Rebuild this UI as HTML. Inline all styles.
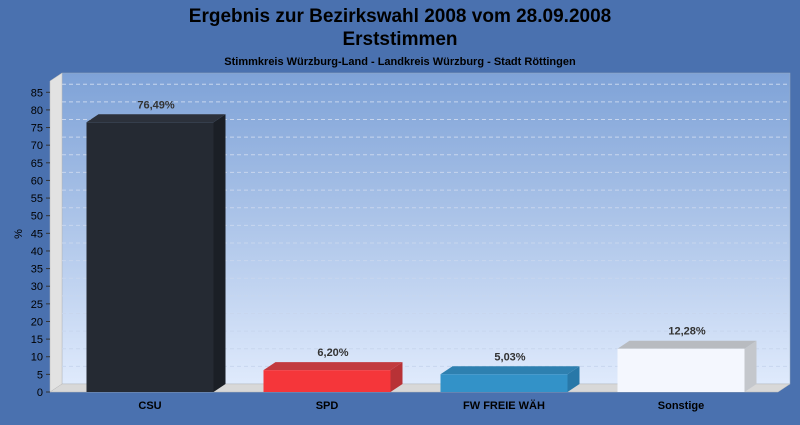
<!DOCTYPE html>
<html><head><meta charset="utf-8"><style>
body{margin:0;width:800px;height:420px;background:#4a71af;overflow:hidden;font-family:"Liberation Sans",sans-serif}
</style></head><body>
<svg width="800" height="420" xmlns="http://www.w3.org/2000/svg" font-family="Liberation Sans, sans-serif">
<defs>
<linearGradient id="wall" x1="0" y1="0" x2="0" y2="1"><stop offset="0" stop-color="#7ea2d7"/><stop offset="1" stop-color="#dfeafc"/></linearGradient>
</defs>
<rect width="800" height="420" fill="#4a71af"/>
<text x="400" y="22" text-anchor="middle" font-size="19" font-weight="bold" fill="#000">Ergebnis zur Bezirkswahl 2008 vom 28.09.2008</text>
<text x="400" y="45" text-anchor="middle" font-size="19" font-weight="bold" fill="#000">Erststimmen</text>
<text x="400" y="65" text-anchor="middle" font-size="11" font-weight="bold" fill="#000">Stimmkreis Würzburg-Land - Landkreis Würzburg - Stadt Röttingen</text>
<text transform="translate(22,234) rotate(-90)" text-anchor="middle" font-size="11" fill="#000">%</text>
<g id="plot"></g>
</svg>
<script>
const categories=["CSU","SPD","FW FREIE WÄH","Sonstige"];
const values=[76.49,6.20,5.03,12.28];
const valueLabels=["76,49%","6,20%","5,03%","12,28%"];
const yTicks=[0,5,10,15,20,25,30,35,40,45,50,55,60,65,70,75,80,85];
const colors=[["#252a33","#1b1f26","#2c313b"],["#f5363a","#b83236","#c23a3e"],["#3392c8","#2878a8","#2e80b0"],["#f4f7fe","#c4c7cc","#b8bbc0"]];
const NS="http://www.w3.org/2000/svg";
const g=document.getElementById('plot');
const x0=50,base=392,yMax=88.2,plotH=311,dx=12,dy=8,right=790;
function y(v){return base-v/yMax*plotH;}
function xc(i){return 150+i*177;}
function mk(t,a,p){const e=document.createElementNS(NS,t);for(const k in a)e.setAttribute(k,a[k]);(p||g).appendChild(e);return e;}
let e;
e=mk('rect',{x:x0+dx,y:y(yMax)-dy,width:right-x0-dx,height:base-dy-(y(yMax)-dy),fill:'url(#wall)',stroke:'#9ab',"stroke-width":0.5});

e=mk('polygon',{points:`${x0},${y(yMax)} ${x0+dx},${y(yMax)-dy} ${x0+dx},${base-dy} ${x0},${base}`,fill:'#e2e2e2',stroke:'#bbb',"stroke-width":0.5});

e=mk('polygon',{points:`${x0},${base} ${x0+dx},${base-dy} ${right},${base-dy} ${right-dx},${base}`,fill:'#d8d8d8',stroke:'#bbb',"stroke-width":0.5});

yTicks.forEach(t=>{
  if(t>0){e=mk('line',{x1:x0+dx,x2:right,y1:y(t)-dy,y2:y(t)-dy,stroke:'#c8d6ee',"stroke-dasharray":'4,3',"stroke-width":1});
  }
  e=mk('line',{x1:x0-4,x2:x0,y1:y(t),y2:y(t),stroke:'#333'});
  
  e=mk('text',{x:x0-7,y:y(t)+4,"text-anchor":'end',"font-size":11,fill:'#000'});e.textContent=t;
  
});
const bw=127;
categories.forEach((c,i)=>{
  const l=xc(i)-bw/2,r=l+bw,top=y(values[i]),col=colors[i];
  e=mk('polygon',{points:`${r},${top} ${r+dx},${top-dy} ${r+dx},${base-dy} ${r},${base}`,fill:col[1]});
  
  e=mk('polygon',{points:`${l},${top} ${l+dx},${top-dy} ${r+dx},${top-dy} ${r},${top}`,fill:col[2]});
  
  e=mk('rect',{x:l,y:top,width:bw,height:base-top,fill:col[0]});
  
  e=mk('text',{x:xc(i)+6,y:top-dy-6,"text-anchor":'middle',"font-size":11,"font-weight":'bold',fill:'#333'});e.textContent=valueLabels[i];
  
  e=mk('text',{x:xc(i),y:409,"text-anchor":'middle',"font-size":11,"font-weight":'bold',fill:'#000'});e.textContent=c;
  
});
</script>
</body></html>
